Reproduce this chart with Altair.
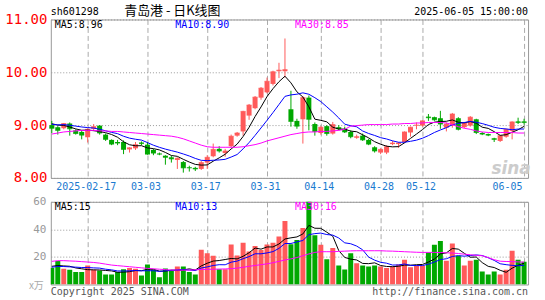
import altair as alt
import pandas as pd

# ---------------- data ----------------
dates = [
    "2025-02-07",
    "2025-02-10", "2025-02-11", "2025-02-12", "2025-02-13", "2025-02-14",
    "2025-02-17", "2025-02-18", "2025-02-19", "2025-02-20", "2025-02-21",
    "2025-02-24", "2025-02-25", "2025-02-26", "2025-02-27", "2025-02-28",
    "2025-03-03", "2025-03-04", "2025-03-05", "2025-03-06", "2025-03-07",
    "2025-03-10", "2025-03-11", "2025-03-12", "2025-03-13", "2025-03-14",
    "2025-03-17", "2025-03-18", "2025-03-19", "2025-03-20", "2025-03-21",
    "2025-03-24", "2025-03-25", "2025-03-26", "2025-03-27", "2025-03-28",
    "2025-03-31", "2025-04-01", "2025-04-02", "2025-04-03",
    "2025-04-07", "2025-04-08", "2025-04-09", "2025-04-10", "2025-04-11",
    "2025-04-14", "2025-04-15", "2025-04-16", "2025-04-17", "2025-04-18",
    "2025-04-21", "2025-04-22", "2025-04-23", "2025-04-24", "2025-04-25",
    "2025-04-28", "2025-04-29", "2025-04-30",
    "2025-05-06", "2025-05-07", "2025-05-08", "2025-05-09",
    "2025-05-12", "2025-05-13", "2025-05-14", "2025-05-15", "2025-05-16",
    "2025-05-19", "2025-05-20", "2025-05-21", "2025-05-22", "2025-05-23",
    "2025-05-26", "2025-05-27", "2025-05-28", "2025-05-29", "2025-05-30",
    "2025-06-03", "2025-06-04", "2025-06-05",
]

opens = [
    9.00, 8.96, 8.94, 9.03, 8.90, 8.87, 8.77, 8.93, 8.99, 8.82,
    8.72, 8.68, 8.68, 8.54, 8.56, 8.67, 8.63, 8.53, 8.46, 8.42,
    8.39, 8.34, 8.30, 8.20, 8.19, 8.17, 8.29, 8.41, 8.55, 8.47,
    8.60, 8.80, 8.88, 9.18, 9.32, 9.52, 9.62, 9.78, 10.02, 10.02,
    9.30, 9.08, 9.11, 9.52, 9.02, 8.85, 8.98, 8.84, 8.96, 8.93,
    8.87, 8.76, 8.80, 8.72, 8.58, 8.48, 8.48, 8.64, 8.64, 8.68,
    8.86, 8.99, 8.99, 9.16, 9.15, 9.13, 8.95, 8.99, 9.13, 8.96,
    8.99, 9.11, 8.85, 8.83, 8.75, 8.70, 8.78, 8.89, 9.07, 9.07,
]
highs = [
    9.08, 8.98, 9.04, 9.05, 8.92, 8.89, 8.94, 9.02, 9.00, 8.84,
    8.73, 8.72, 8.71, 8.58, 8.68, 8.69, 8.68, 8.55, 8.48, 8.43,
    8.42, 8.39, 8.32, 8.23, 8.21, 8.32, 8.43, 8.65, 8.60, 8.55,
    8.82, 8.87, 9.27, 9.40, 9.55, 9.72, 9.90, 10.03, 10.18, 10.64,
    9.65, 9.12, 9.55, 9.56, 9.05, 8.98, 9.00, 9.06, 9.00, 8.97,
    8.90, 8.82, 8.84, 8.74, 8.60, 8.56, 8.62, 8.70, 8.68, 8.88,
    8.97, 9.05, 9.09, 9.21, 9.16, 9.27, 9.05, 9.23, 9.15, 9.06,
    9.17, 9.12, 8.87, 8.84, 8.76, 8.81, 8.93, 9.07, 9.14, 9.12,
]
lows = [
    8.85, 8.82, 8.92, 8.80, 8.82, 8.73, 8.67, 8.90, 8.82, 8.70,
    8.62, 8.62, 8.45, 8.48, 8.53, 8.62, 8.44, 8.43, 8.43, 8.25,
    8.29, 8.17, 8.10, 8.12, 8.13, 8.15, 8.17, 8.39, 8.48, 8.40,
    8.58, 8.78, 8.80, 9.10, 9.30, 9.48, 9.60, 9.75, 9.89, 9.90,
    8.97, 8.93, 8.65, 8.90, 8.80, 8.82, 8.80, 8.82, 8.90, 8.85,
    8.75, 8.74, 8.70, 8.62, 8.48, 8.45, 8.45, 8.62, 8.57, 8.66,
    8.78, 8.92, 8.97, 9.08, 9.08, 8.93, 8.88, 8.95, 8.90, 8.94,
    8.97, 8.83, 8.81, 8.79, 8.68, 8.68, 8.76, 8.73, 9.02, 9.01,
]
closes = [
    8.94, 8.90, 9.03, 8.93, 8.84, 8.81, 8.92, 8.97, 8.85, 8.73,
    8.64, 8.66, 8.54, 8.57, 8.63, 8.65, 8.45, 8.47, 8.45, 8.39,
    8.36, 8.37, 8.19, 8.19, 8.17, 8.29, 8.39, 8.54, 8.51, 8.51,
    8.79, 8.85, 9.26, 9.38, 9.53, 9.70, 9.83, 10.01, 10.04, 10.05,
    9.07, 8.98, 9.52, 9.11, 8.88, 8.96, 8.84, 9.01, 8.93, 8.87,
    8.78, 8.78, 8.72, 8.64, 8.51, 8.54, 8.59, 8.66, 8.66, 8.87,
    8.96, 9.00, 9.08, 9.14, 9.10, 9.02, 9.02, 9.21, 8.92, 9.04,
    9.15, 8.86, 8.83, 8.81, 8.73, 8.80, 8.92, 9.06, 9.05, 9.05,
]
volumes = [
    12.0, 17.0, 11.4, 10.7, 9.0, 9.0, 13.8, 10.7, 10.2, 7.3,
    7.3, 9.0, 11.1, 11.9, 11.4, 6.6, 14.5, 10.7, 5.2, 11.6,
    10.2, 13.0, 13.0, 9.0, 7.3, 25.2, 22.6, 20.9, 11.0, 11.0,
    29.0, 21.0, 30.3, 24.0, 28.0, 25.0, 29.0, 30.3, 34.8, 46.0,
    29.2, 32.3, 41.0, 66.0, 35.7, 28.8, 18.3, 26.4, 13.8, 10.9,
    22.6, 15.4, 13.8, 13.0, 13.8, 13.0, 11.9, 13.0, 14.5, 18.0,
    12.6, 13.8, 13.8, 23.3, 28.8, 31.6, 17.3, 29.7, 20.9, 13.8,
    17.3, 18.0, 9.5, 7.3, 9.5, 7.3, 10.7, 24.5, 18.0, 16.6,
]
# closes / volumes of the days just before the window (seed the MA5 / MA10)
pre_closes = [9.02, 8.98, 9.05, 9.00, 8.98, 9.03, 9.06, 9.08, 9.02]
pre_vols = [11.0, 12.0, 13.0, 11.0, 12.0, 14.0, 13.0, 12.0, 15.0]
# 30-day averages
price_ma30 = [
    8.83, 8.85, 8.87, 8.88, 8.89, 8.90, 8.90, 8.90, 8.89, 8.89,
    8.88, 8.88, 8.87, 8.86, 8.85, 8.84, 8.83, 8.82, 8.81, 8.80,
    8.79, 8.77, 8.74, 8.70, 8.66, 8.62, 8.59, 8.58, 8.58, 8.58,
    8.58, 8.58, 8.59, 8.61, 8.63, 8.66, 8.70, 8.73, 8.76, 8.79,
    8.82, 8.84, 8.86, 8.87, 8.87, 8.88, 8.88, 8.89, 8.90, 8.92,
    8.98, 8.99, 9.00, 9.01, 9.01, 9.01, 9.01, 9.02, 9.02, 9.03,
    9.03, 9.04, 9.04, 9.05, 9.05, 9.05, 9.04, 9.01, 8.97, 8.94,
    8.92, 8.89, 8.87, 8.86, 8.86, 8.86, 8.86, 8.86, 8.85, 8.85,
]
vol_ma30 = [
    16.8, 17.3, 17.3, 17.1, 16.9, 16.6, 16.3, 16.0, 15.5, 14.8,
    14.1, 13.7, 13.3, 12.9, 12.5, 12.1, 11.7, 11.4, 11.1, 10.8,
    10.5, 10.4, 10.4, 10.5, 10.7, 10.9, 11.0, 11.1, 11.2, 11.3,
    11.5, 11.9, 12.5, 13.2, 13.8, 14.4, 15.0, 15.8, 16.8, 17.8,
    18.6, 19.6, 20.9, 22.2, 23.3, 23.8, 23.8, 23.8, 24.0, 24.2,
    24.4, 24.5, 24.5, 24.5, 24.5, 24.5, 24.3, 24.2, 24.0, 23.8,
    23.6, 23.4, 23.3, 23.3, 23.3, 23.2, 23.0, 22.8, 22.5, 22.0,
    21.6, 21.2, 20.9, 19.5, 18.0, 16.9, 16.7, 16.6, 16.4, 16.2,
]

price_ticks = [8.0, 8.5, 9.0, 9.5, 10.0, 10.5, 11.0]
vol_ticks = [20, 40, 60]
date_ticks = ["2025-02-17", "2025-03-03", "2025-03-17", "2025-03-31",
              "2025-04-14", "2025-04-28", "2025-05-12", "2025-06-05"]

header_labels = ["sh601298", "青岛港 - 日K线图", "2025-06-05 15:00:00"]
price_ma_labels = ["MA5:8.96", "MA10:8.90", "MA30:8.85"]
vol_ma_labels = ["MA5:15", "MA10:13", "MA30:16"]
footer_labels = ["Copyright 2025 SINA.COM", "http://finance.sina.com.cn"]
unit_label = "x万"
watermark_label = "sina"

# ---------------- styling ----------------
RED = "#ff5a5a"
GREEN = "#00a800"
MA_COLORS = ["#000000", "#0000ff", "#ff00ff"]
MONO = "DejaVu Sans Mono"
CJK = "Noto Sans CJK SC"
W = 479
HP = 159
HV = 83
GAP = 24
LEFT = 50
TOP = 18
TOTAL_W = 545
TOTAL_H = 300

df = pd.DataFrame({
    "date": dates, "open": opens, "high": highs, "low": lows,
    "close": closes, "vol": volumes, "ma30": price_ma30, "vma30": vol_ma30,
})
df["dir"] = ["up" if c >= o else "down" for o, c in zip(opens, closes)]
cs = pd.Series(pre_closes + closes)
df["ma5"] = cs.rolling(5).mean().iloc[len(pre_closes):].to_numpy()
df["ma10"] = cs.rolling(10).mean().iloc[len(pre_closes):].to_numpy()
vs = pd.Series(pre_vols + volumes)
df["vma5"] = vs.rolling(5).mean().iloc[len(pre_vols):].to_numpy()
df["vma10"] = vs.rolling(10).mean().iloc[len(pre_vols):].to_numpy()

xscale = alt.Scale(type="point", domain=dates, padding=5 / 12, align=0.2)
color = alt.Color("dir:N", scale=alt.Scale(domain=["up", "down"], range=[RED, GREEN]), legend=None)

xaxis_price = alt.Axis(
    values=date_ticks, title=None, grid=True, gridDash=[5, 3], gridColor="#aaaaaa",
    ticks=False, tickSize=0, domain=False, labelFont=MONO, labelFontSize=10,
    labelColor="#1a7ad0", labelPadding=4, labelOffset=-2, labelOverlap=False,
    labelAngle=0, labelBaseline="top",
    labelExpr="datum.value == '2025-02-17' ? datum.value : slice(datum.value, 5)",
    labelAlign={"condition": {"test": "datum.value == '2025-06-05'", "value": "right"}, "value": "center"},
)
xaxis_vol = alt.Axis(
    values=date_ticks, title=None, grid=True, gridDash=[5, 3], gridColor="#aaaaaa",
    ticks=False, domain=False, labels=False,
)
yaxis_price = alt.Axis(
    values=price_ticks, format=".2f", title=None, grid=True, gridDash=[1, 2],
    gridColor="#999999", ticks=False, tickSize=0, domain=False, labelFont=MONO,
    labelFontSize=14, labelColor="#ff0000", labelPadding=4,
)
yaxis_vol = alt.Axis(
    values=vol_ticks, title=None, grid=True, gridDash=[1, 2], gridColor="#999999",
    ticks=False, tickSize=0, domain=False, labelFont=MONO, labelFontSize=11,
    labelColor="#999999", labelPadding=5,
)
yscale_price = alt.Scale(domain=[8, 11], nice=False, zero=False)
yscale_vol = alt.Scale(domain=[0, 60], nice=False, zero=True)


def label(text, x, y, col, align="left", size=10, font=MONO, **kw):
    return alt.Chart(pd.DataFrame({"t": [text]})).mark_text(
        align=align, baseline="middle", font=font, fontSize=size, color=col, **kw
    ).encode(x=alt.value(x), y=alt.value(y), text="t:N")


def frame(x0, x1, y0, y1):
    # invisible rectangle that fixes the extent of the whole picture
    return alt.Chart(pd.DataFrame({"k": [0]})).mark_rect(opacity=0).encode(
        x=alt.value(x0), x2=alt.value(x1), y=alt.value(y0), y2=alt.value(y1))


# ---------------- price panel ----------------
pbase = alt.Chart(df).encode(x=alt.X("date:N", scale=xscale, axis=xaxis_price, title=None))
wick = pbase.mark_rule(strokeWidth=1).encode(
    y=alt.Y("low:Q", scale=yscale_price, axis=yaxis_price, title=None), y2="high:Q", color=color)
body = pbase.mark_bar(size=5).encode(y=alt.Y("open:Q", title=None), y2="close:Q", color=color)
doji = pbase.mark_tick(size=5, thickness=1).encode(y=alt.Y("close:Q", title=None), color=color)
lines_p = [
    pbase.mark_line(color=MA_COLORS[k], strokeWidth=1).encode(y=alt.Y(f + ":Q", title=None))
    for k, f in enumerate(["ma5", "ma10", "ma30"])
]
price_texts = [
    label(price_ma_labels[0], 4, 6, MA_COLORS[0]),
    label(price_ma_labels[1], 125, 6, MA_COLORS[1]),
    label(price_ma_labels[2], 245, 6, MA_COLORS[2]),
    label(header_labels[0], 0, -7, "#000000", size=10),
    label(header_labels[1], 122, -8, "#000000", align="center", size=13, font=CJK),
    label(header_labels[2], W, -7, "#000000", align="right", size=10),
]
watermark = label(watermark_label, 462, 150, "#cccccc", align="center", size=17,
                  font="DejaVu Sans", fontStyle="italic", fontWeight="bold")
price = alt.layer(
    frame(-LEFT, TOTAL_W - LEFT, -TOP, 0), watermark, wick, body, doji, *lines_p, *price_texts
).properties(width=W, height=HP)

# ---------------- volume panel ----------------
vbase = alt.Chart(df).encode(x=alt.X("date:N", scale=xscale, axis=xaxis_vol, title=None))
vbars = vbase.mark_bar(size=5, clip=True).encode(
    y=alt.Y("vol:Q", scale=yscale_vol, axis=yaxis_vol, title=None), color=color)
lines_v = [
    vbase.mark_line(color=MA_COLORS[k], strokeWidth=1, clip=True).encode(y=alt.Y(f + ":Q", title=None))
    for k, f in enumerate(["vma5", "vma10", "vma30"])
]
vol_texts = [
    label(vol_ma_labels[0], 4, 5, MA_COLORS[0]),
    label(vol_ma_labels[1], 125, 5, MA_COLORS[1]),
    label(vol_ma_labels[2], 245, 5, MA_COLORS[2]),
    label(unit_label, -7, 85, "#aaaaaa", align="right", size=10, font=CJK),
    label(footer_labels[0], 0, 91, "#555555"),
    label(footer_labels[1], W, 91, "#555555", align="right"),
]
vol_bottom = TOTAL_H - (TOP + HP + GAP)
volume = alt.layer(
    frame(-LEFT, TOTAL_W - LEFT, 0, vol_bottom), vbars, *lines_v, *vol_texts
).properties(width=W, height=HV)

chart = alt.vconcat(price, volume, spacing=GAP).properties(
    padding=0,
    bounds="flush",
    background="white",
).configure_view(stroke="#999999", strokeWidth=1)

chart.save("out.html", embed_options={"renderer": "svg", "actions": False})
